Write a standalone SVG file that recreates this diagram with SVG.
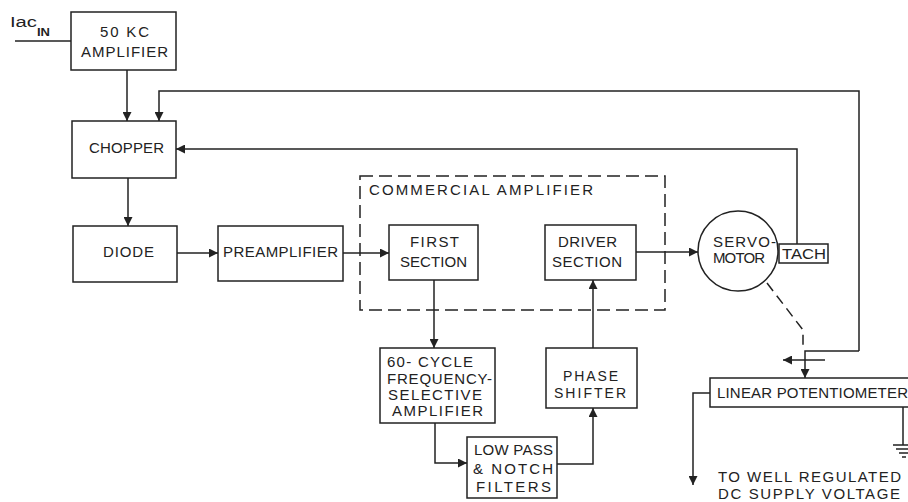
<svg xmlns="http://www.w3.org/2000/svg" width="908" height="502" viewBox="0 0 908 502">
<style>
.bx{fill:none;stroke:#222;stroke-width:1.5}
.ln{fill:none;stroke:#222;stroke-width:1.5}
.ds{fill:none;stroke:#222;stroke-width:1.5;stroke-dasharray:13 6}
text{font-family:"Liberation Sans",Arial,sans-serif;font-size:15px;fill:#222}
</style>
<defs>
<marker id="ah" viewBox="0 0 10 10" refX="10" refY="5" markerWidth="10" markerHeight="9" markerUnits="userSpaceOnUse" orient="auto">
<path d="M0,0 L10,5 L0,10 Z" fill="#222"/>
</marker>
</defs>
<rect width="908" height="502" fill="#fff"/>

<g id="input">
<text x="10" y="27" textLength="27" lengthAdjust="spacingAndGlyphs" style="font-size:14px">Iac</text>
<text x="37" y="36" textLength="13" lengthAdjust="spacingAndGlyphs" style="font-size:11px;font-weight:bold">IN</text>
</g>

<g id="amp50kc">
<rect class="bx" x="71" y="12" width="105" height="58"/>
<text x="100" y="37" textLength="49" lengthAdjust="spacing">50 KC</text>
<text x="81" y="57" textLength="87" lengthAdjust="spacing">AMPLIFIER</text>
</g>

<g id="chopper">
<rect class="bx" x="72" y="121" width="104" height="57"/>
<text x="89" y="153" textLength="75" lengthAdjust="spacing">CHOPPER</text>
</g>

<g id="diode">
<rect class="bx" x="73" y="226" width="104" height="56"/>
<text x="103" y="257" textLength="51" lengthAdjust="spacing">DIODE</text>
</g>

<g id="preamp">
<rect class="bx" x="218" y="226" width="125" height="55"/>
<text x="223" y="257" textLength="115" lengthAdjust="spacing">PREAMPLIFIER</text>
</g>

<g id="commercial">
<rect class="ds" x="360" y="176" width="305" height="134"/>
<text x="369" y="195" textLength="224" lengthAdjust="spacing">COMMERCIAL  AMPLIFIER</text>
</g>

<g id="first">
<rect class="bx" x="389" y="225" width="89" height="55"/>
<text x="410" y="247" textLength="49" lengthAdjust="spacing">FIRST</text>
<text x="400" y="267" textLength="67" lengthAdjust="spacing">SECTION</text>
</g>

<g id="driver">
<rect class="bx" x="545" y="225" width="91" height="55"/>
<text x="558" y="247" textLength="59" lengthAdjust="spacing">DRIVER</text>
<text x="552" y="267" textLength="70" lengthAdjust="spacing">SECTION</text>
</g>

<g id="servo">
<circle class="bx" cx="738" cy="251" r="40"/>
<text x="713" y="247" textLength="63" lengthAdjust="spacing">SERVO-</text>
<text x="713" y="263" textLength="52" lengthAdjust="spacing">MOTOR</text>
</g>

<g id="tach">
<rect class="bx" x="779" y="244" width="49" height="19"/>
<text x="782" y="259" textLength="44" lengthAdjust="spacingAndGlyphs">TACH</text>
</g>

<g id="sixty">
<rect class="bx" x="380" y="348" width="115" height="75"/>
<text x="387" y="367" textLength="86" lengthAdjust="spacing">60- CYCLE</text>
<text x="387" y="384" textLength="105" lengthAdjust="spacing">FREQUENCY-</text>
<text x="388" y="400" textLength="94" lengthAdjust="spacing">SELECTIVE</text>
<text x="392" y="416" textLength="91" lengthAdjust="spacing">AMPLIFIER</text>
</g>

<g id="lowpass">
<rect class="bx" x="467" y="437" width="90" height="61"/>
<text x="474" y="455" textLength="79" lengthAdjust="spacing">LOW PASS</text>
<text x="473" y="474" textLength="80" lengthAdjust="spacing">&amp; NOTCH</text>
<text x="476" y="492" textLength="75" lengthAdjust="spacing">FILTERS</text>
</g>

<g id="phase">
<rect class="bx" x="546" y="348" width="91" height="60"/>
<text x="563" y="381" textLength="55" lengthAdjust="spacing" style="font-size:14px">PHASE</text>
<text x="554" y="398" textLength="72" lengthAdjust="spacing" style="font-size:14px">SHIFTER</text>
</g>

<g id="pot">
<path class="bx" d="M908,378 H710 V407 H908"/>
<text x="717" y="398" textLength="191" lengthAdjust="spacing">LINEAR POTENTIOMETER</text>
</g>

<g id="ground">
<path class="ln" d="M903,407 V445 M893,445 H908 M896,449 H908 M899,453 H908 M902,457 H906"/>
</g>

<g id="supply">
<text x="718" y="482" textLength="183" lengthAdjust="spacing">TO WELL REGULATED</text>
<text x="718" y="499" textLength="182" lengthAdjust="spacing">DC SUPPLY VOLTAGE</text>
</g>

<g id="connectors">
<path class="ln" d="M15,41 H71"/>
<path class="ln" d="M127,70 V121" marker-end="url(#ah)"/>
<path class="ln" d="M859,351 V91 H159 V121" marker-end="url(#ah)"/>
<path class="ln" d="M797,244 V149 H176" marker-end="url(#ah)"/>
<path class="ln" d="M128,178 V226" marker-end="url(#ah)"/>
<path class="ln" d="M177,253 H218" marker-end="url(#ah)"/>
<path class="ln" d="M343,253 H389" marker-end="url(#ah)"/>
<path class="ln" d="M636,252 H698" marker-end="url(#ah)"/>
<path class="ln" d="M434,280 V348" marker-end="url(#ah)"/>
<path class="ln" d="M435,423 V463 H467" marker-end="url(#ah)"/>
<path class="ln" d="M557,464 H593 V408" marker-end="url(#ah)"/>
<path class="ln" d="M593,348 V280" marker-end="url(#ah)"/>
<path class="ln" d="M859,351 H805 V378" marker-end="url(#ah)"/>
<path class="ln" d="M825,360 H783" marker-end="url(#ah)"/>
<path class="ds" d="M767,283 L803,330 V350" style="stroke-dasharray:10 6"/>
<path class="ln" d="M710,393 H693 V485" marker-end="url(#ah)"/>
</g>
</svg>
